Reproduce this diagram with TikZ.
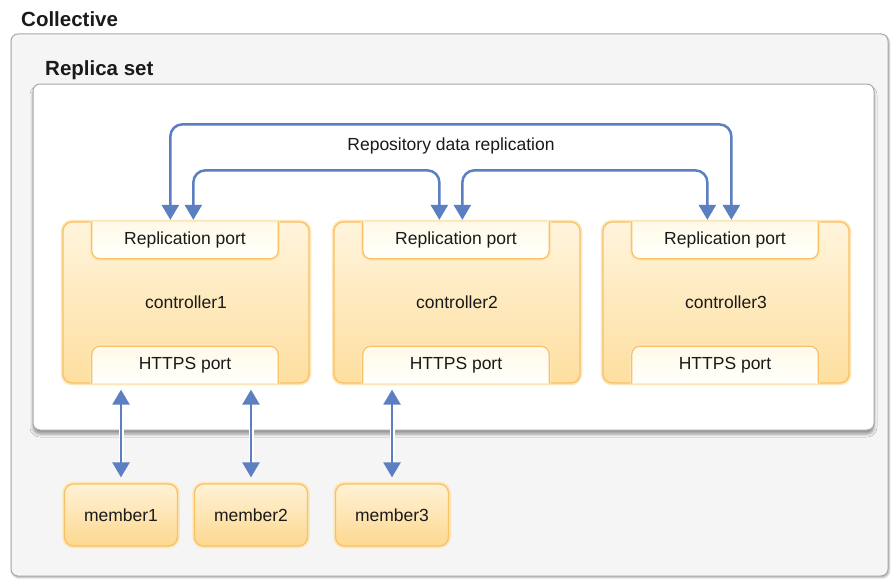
\documentclass[tikz,border=0pt]{standalone}
\usepackage{fontspec}
\setmainfont{Liberation Sans}
\usetikzlibrary{arrows.meta,shadows.blur}
\definecolor{ornge}{HTML}{F8C166}
\definecolor{halo}{HTML}{FDE7BA}
\definecolor{ctop}{HTML}{FFF4DC}
\definecolor{cbot}{HTML}{FDDF9F}
\definecolor{mtop}{HTML}{FFF2D6}
\definecolor{mbot}{HTML}{FDD890}
\definecolor{tabtop}{HTML}{FFF9E8}
\definecolor{tabbot}{HTML}{FFFFFB}
\definecolor{arrowblue}{HTML}{5B7FC0}
\definecolor{collfill}{HTML}{F5F5F5}
\definecolor{boxline}{HTML}{A8A8A8}
\definecolor{txt}{HTML}{1A1A1A}
\pgfdeclarelayer{bg}
\pgfdeclarelayer{mid}
\pgfsetlayers{bg,mid,main}
\begin{document}
\begin{tikzpicture}[x=1pt,y=-1pt,
  lbl/.style={font=\fontsize{17.5}{20}\selectfont, text=txt},
  title/.style={font=\fontsize{20.5}{24}\selectfont\bfseries, text=txt, inner sep=0pt},
  outerbox/.style={draw=boxline, line width=1pt, rounded corners=7pt, inner sep=0pt},
  ctrl/.style={lbl, rounded corners=9pt, draw=ornge, line width=1.3pt,
    top color=ctop, bottom color=cbot, preaction={draw=halo, line width=4.5pt},
    minimum width=246pt, minimum height=161pt, inner sep=0pt},
  member/.style={lbl, rounded corners=9pt, draw=ornge, line width=1.3pt,
    top color=mtop, bottom color=mbot, preaction={draw=halo, line width=4.5pt},
    minimum width=113pt, minimum height=62pt, inner sep=0pt},
  tabtext/.style={lbl, minimum width=186pt, minimum height=37pt, inner sep=0pt},
  tabshape/.style={draw=ornge, line width=1.2pt, top color=tabtop, bottom color=tabbot,
    preaction={draw=halo, line width=4pt}, rounded corners=8pt},
  rep/.style={draw=arrowblue, line width=2.5pt,
    {Triangle[width=17pt,length=15pt]}-{Triangle[width=17pt,length=15pt]},
    rounded corners=12pt, shorten <=1.5pt, shorten >=1.5pt},
  link/.style={draw=arrowblue, line width=2.5pt,
    {Triangle[width=17pt,length=15pt]}-{Triangle[width=17pt,length=15pt]},
    shorten <=6pt, shorten >=6pt,
    preaction={draw=white, line width=5pt, -, shorten <=12pt, shorten >=12pt}}
]
\useasboundingbox (0,0) rectangle (891,578);
\begin{pgfonlayer}{bg}
\node[outerbox, fill=collfill, minimum width=877pt, minimum height=542pt,
  blur shadow={shadow xshift=1pt, shadow yshift=-1.5pt, shadow blur radius=2pt, shadow opacity=35}]
  (coll) at (449.5,305) {};
\node[outerbox, fill=white, minimum width=841pt, minimum height=346pt,
  blur shadow={shadow xshift=0pt, shadow yshift=-4pt, shadow blur radius=3pt, shadow opacity=40}]
  (rs) at (453.5,257) {};
\node[ctrl] (c1) at (186,302.5) {controller1};
\node[ctrl] (c2) at (457,302.5) {controller2};
\node[ctrl] (c3) at (726,302.5) {controller3};
\node[member] (m1) at (121,515) {member1};
\node[member] (m2) at (251,515) {member2};
\node[member] (m3) at (392,515) {member3};
\end{pgfonlayer}

\node[title, anchor=base west] (collt) at (21,27) {Collective};
\node[title, anchor=base west] (rst) at (45,75) {Replica set};

\foreach \i in {1,2,3}{
  \node[tabtext, anchor=north] (r\i) at ([xshift=-1pt]c\i.north) {Replication port};
  \node[tabtext, anchor=south] (h\i) at ([xshift=-1pt]c\i.south) {HTTPS port};
  \begin{pgfonlayer}{mid}
    \draw[tabshape] (r\i.north west) -- (r\i.south west) -- (r\i.south east) -- (r\i.north east);
    \draw[tabshape] (h\i.south west) -- (h\i.north west) -- (h\i.north east) -- (h\i.south east);
  \end{pgfonlayer}
}

\node[lbl] (reptext) at (451,146) {Repository data replication};

\draw[rep] ([xshift=108pt]c1.north west) -- ++(0pt,97pt) -| ([xshift=129pt]c3.north west);
\draw[rep] ([xshift=131pt]c1.north west) -- ++(0pt,51pt) -| ([xshift=106pt]c2.north west);
\draw[rep] ([xshift=129pt]c2.north west) -- ++(0pt,51pt) -| ([xshift=105pt]c3.north west);

\draw[link] (m1.north |- c1.south) -- (m1.north);
\draw[link] (m2.north |- c1.south) -- (m2.north);
\draw[link] (m3.north |- c2.south) -- (m3.north);
\end{tikzpicture}
\end{document}
